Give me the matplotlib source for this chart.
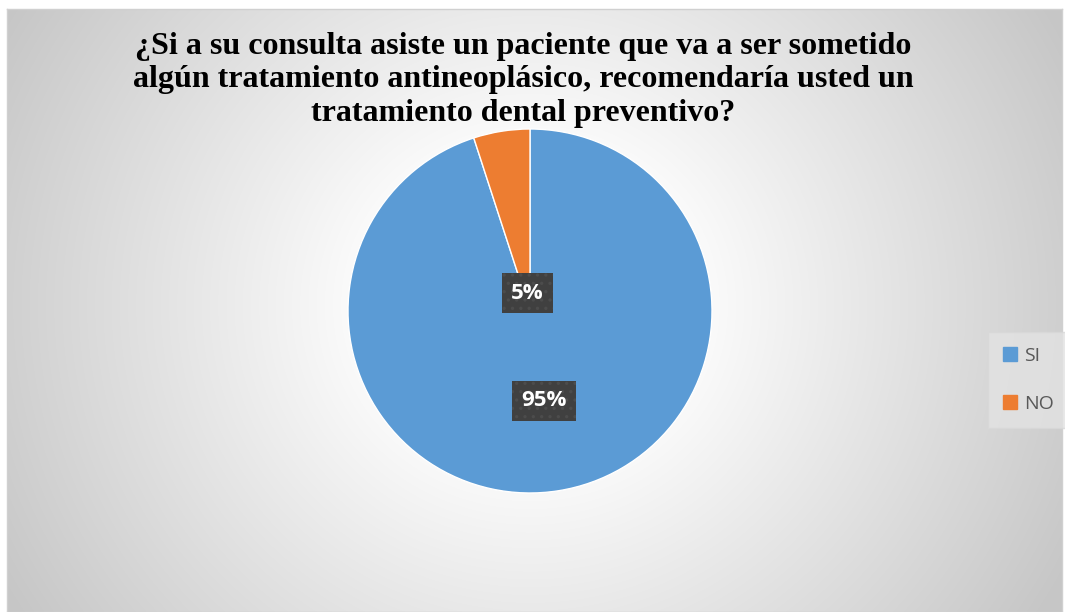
import numpy as np
import matplotlib
matplotlib.use("Agg")
import matplotlib.pyplot as plt
import matplotlib.patches as mpatches

# Datos ------------------------------------------------------------------------
categorias = ["SI", "NO"]
porcentajes = [95, 5]
colores = ["#5B9BD5", "#ED7D31"]
titulo = ("¿Si a su consulta asiste un paciente que va a ser sometido\n"
          "algún tratamiento antineoplásico, recomendaría usted un\n"
          "tratamiento dental preventivo?")

W, H = 1065, 612
fig = plt.figure(figsize=(W / 100, H / 100), dpi=100)
fig.patch.set_facecolor("white")

# Fondo con degradado radial -----------------------------------------------------
x0, y0, x1, y1 = 7, 9, 1062, 612
bg = fig.add_axes([x0 / W, 1 - y1 / H, (x1 - x0) / W, (y1 - y0) / H])
xx, yy = np.meshgrid(np.arange(x0, x1), np.arange(y0, y1))
r = np.hypot(xx - 530, (yy - 305) * 1.05)
v = 1 - 0.22 * np.clip((r - 140) / 460, 0, 1)
bg.imshow(np.dstack([v, v, v]), aspect="auto", extent=[0, 1, 0, 1], origin="upper")
bg.set_xlim(0, 1)
bg.set_ylim(0, 1)
bg.set_xticks([])
bg.set_yticks([])
for s in bg.spines.values():
    s.set_color("#d0d0d0")
    s.set_linewidth(1)

# Pastel -------------------------------------------------------------------------
cx, cy, rad = 530, 311, 182
ax = fig.add_axes([(cx - rad) / W, 1 - (cy + rad) / H, 2 * rad / W, 2 * rad / H])
wedges, _ = ax.pie(porcentajes, colors=colores, startangle=90, counterclock=False,
                   wedgeprops=dict(edgecolor="white", linewidth=1))
ax.set_xlim(-1, 1)
ax.set_ylim(-1, 1)
ax.set_aspect("equal")
ax.axis("off")

plt.rcParams["hatch.linewidth"] = 1.2
dist = [0.5, 0.1]
for w, p, d in zip(wedges, porcentajes, dist):
    ang = np.deg2rad((w.theta1 + w.theta2) / 2)
    ax.text(d * np.cos(ang), d * np.sin(ang), f"{p}%", ha="center", va="center",
            color="white", fontsize=16, fontweight="bold", family="Open Sans",
            bbox=dict(boxstyle="square,pad=0.42", fc="#404040", ec="#4c4c4c",
                      lw=0, hatch=".."))

# Título -------------------------------------------------------------------------
fig.text(523 / W, 1 - 32 / H, titulo, ha="center", va="top", family="Liberation Serif",
         fontweight="bold", fontsize=23, linespacing=1.2, color="black")

# Leyenda ------------------------------------------------------------------------
handles = [mpatches.Patch(color=c, label=l) for c, l in zip(colores, categorias)]
leg = fig.legend(handles=handles, loc="center left", bbox_to_anchor=(988 / W, 1 - 380 / H),
                 frameon=True, fancybox=False, prop=dict(family="Open Sans", size=14),
                 labelcolor="#595959", handlelength=0.75, handleheight=0.75,
                 handletextpad=0.35, labelspacing=1.55, borderpad=0.75, borderaxespad=0)
leg.get_frame().set_facecolor("#e3e3e3")
leg.get_frame().set_edgecolor("#d8d8d8")
leg.get_frame().set_linewidth(1)

fig.savefig("out.png", dpi=100)
